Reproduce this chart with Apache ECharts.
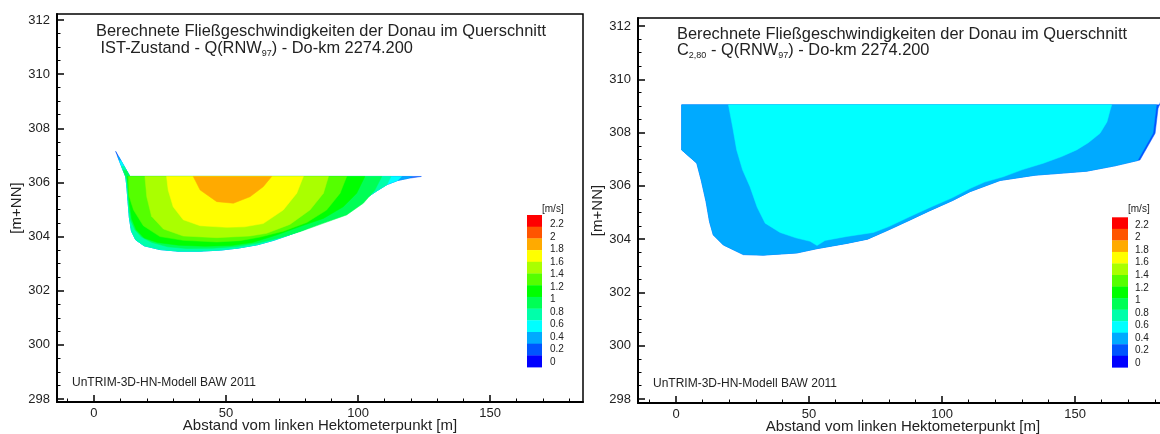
<!DOCTYPE html>
<html>
<head>
<meta charset="utf-8">
<script src="https://cdn.jsdelivr.net/npm/echarts@6.0.0/dist/echarts.min.js"></script>
<style>
  html, body { margin: 0; padding: 0; background: #fff; }
  #chart { width: 1160px; height: 434px; }
</style>
</head>
<body>
<div id="chart"></div>
<script>
// Achsenteilung
const xMajor = [0, 50, 100, 150];
const xMinor = [-10, 10, 20, 30, 40, 60, 70, 80, 90, 110, 120, 130, 140, 160, 170, 180];
const yMajor = [298, 300, 302, 304, 306, 308, 310, 312];
const yMinor = [298.5, 299, 299.5, 300.5, 301, 301.5, 302.5, 303, 303.5, 304.5, 305, 305.5,
  306.5, 307, 307.5, 308.5, 309, 309.5, 310.5, 311, 311.5];

// Farblegende [m/s], von oben nach unten
const legendLabels = ['2.2', '2', '1.8', '1.6', '1.4', '1.2', '1', '0.8', '0.6', '0.4', '0.2', '0'];
const legendColors = ['#ff0000', '#ff5500', '#ffaa00', '#ffff00', '#aaff00', '#55ff00', '#00ff00',
  '#00ff55', '#00ffaa', '#00ffff', '#00aaff', '#0055ff', '#0000ff'];

// IST-Zustand: Sohle (Abstand [m], Höhe [m+NN])
const bedIst = [[12.0, 306.22], [12.4, 305.9], [12.9, 305.3], [13.4, 304.7], [14.2, 304.2], [15.8, 303.88],
  [19, 303.66], [25, 303.52], [32, 303.46], [40, 303.46], [48, 303.5], [55, 303.58], [62, 303.7],
  [68, 303.86], [74, 304.06], [80, 304.28], [86, 304.55], [92, 304.85], [98, 305.15], [103, 305.42],
  [107, 305.68], [111, 305.92], [115, 306.07], [119, 306.15]];

// IST-Zustand: Bereiche v >= Stufe
const istV02 = [[8.2, 307.15], [10.5, 306.58], ...bedIst, [124, 306.22], [13.6, 306.22], [8.4, 307.12]];
const istV04 = [[9.0, 306.95], [10.5, 306.58], ...bedIst, [120.5, 306.22], [13.6, 306.22], [9.4, 306.95]];
const istV06 = [[9.6, 306.8], [10.5, 306.58], ...bedIst.slice(0, -1), [116.5, 306.22], [13.6, 306.22], [10.25, 306.8]];
const istV08 = [[10.4, 306.6], ...bedIst.slice(0, -2), [112.5, 306.22], [13.6, 306.22], [11.4, 306.6]];
const istV10 = [[11.04, 306.45], [12.5, 306.1], [12.9, 305.6], [13.3, 305.1], [13.9, 304.6], [15.5, 304.25],
  [18, 303.98], [22, 303.78], [28, 303.62], [35, 303.56], [45, 303.57], [54, 303.63], [62, 303.76],
  [70, 303.95], [78, 304.18], [86, 304.46], [95.7, 304.8], [102, 305.23], [106.4, 305.72], [109, 306.22],
  [13.6, 306.22], [12.3, 306.45]];
const istV12 = [[12.6, 306.22], [13.0, 305.8], [13.5, 305.2], [14.3, 304.65], [16, 304.25], [19, 303.95],
  [24, 303.78], [32, 303.68], [42, 303.64], [52, 303.67], [60, 303.78], [69.2, 304.06], [78, 304.37],
  [86.9, 304.67], [94.4, 305.1], [99.5, 305.6], [102.6, 306.22]];
const istV14 = [[13.0, 306.22], [13.3, 305.5], [15.0, 304.98], [18.7, 304.4], [25, 304.0], [33.8, 303.86],
  [46.5, 303.8], [55.3, 303.85], [62.9, 303.98], [71.7, 304.2], [80.6, 304.52], [88.1, 304.98],
  [93.2, 305.6], [95.7, 306.22]];
const istV16 = [[19.3, 306.22], [20, 305.47], [21.8, 304.75], [26.3, 304.28], [33.8, 304.02], [46.5, 303.96],
  [59.1, 304.02], [65.4, 304.12], [74.2, 304.45], [81.8, 304.98], [86.9, 305.6], [88.8, 306.22]];
const istV18 = [[27.5, 306.22], [28.1, 305.72], [30, 305.1], [33.8, 304.62], [40.2, 304.4], [50.3, 304.34],
  [57, 304.36], [64.1, 304.48], [71.7, 304.98], [76.8, 305.6], [79.3, 306.22]];
const istV20 = [[37.6, 306.22], [40.2, 305.72], [46.5, 305.29], [52.8, 305.23], [59.1, 305.47],
  [64.1, 305.84], [67.3, 306.22]];

// C2,80: Sohle
const bedC = [[2.1, 309.04], [2.1, 307.35], [7.8, 306.85], [9.5, 306.2], [11.3, 305.4], [12.6, 304.65],
  [14, 304.16], [17.8, 303.78], [25.3, 303.42], [32.8, 303.4], [45.4, 303.48], [52.9, 303.64],
  [64.2, 303.84], [72, 304.0], [80, 304.35], [88, 304.72], [95, 305.05], [104, 305.45], [110.5, 305.78],
  [121.8, 306.2], [135, 306.4], [144.4, 306.47], [154.4, 306.55], [165, 306.75], [174.4, 306.97]];
const cV02 = [...bedC, [180.1, 307.97], [181.2, 308.9], [182.5, 309.25], [186, 309.5], [186, 309.04]];
const cV04 = [...bedC.slice(0, -1), [173.5, 306.95], [179.3, 307.97], [180.6, 309.04]];
const cV06 = [[19.7, 309.04], [21.3, 308.2], [22.8, 307.35], [25, 306.6], [27.8, 305.97], [30.5, 305.2],
  [33.5, 304.6], [39.1, 304.25], [45, 304.05], [50.4, 303.92], [53, 303.76], [56, 303.95], [64.2, 304.1],
  [74.2, 304.25], [80, 304.47], [88, 304.85], [95, 305.17], [104, 305.56], [110.5, 305.9], [116, 306.14],
  [123, 306.34], [130, 306.6], [138.1, 306.85], [145, 307.1], [150.6, 307.35], [155, 307.62],
  [159.4, 307.97], [162, 308.4], [163.2, 308.85], [163.8, 309.04]];

const bandsIst = [
  {color: '#0055ff', pts: istV02}, {color: '#00aaff', pts: istV04}, {color: '#00ffff', pts: istV06},
  {color: '#00ffaa', pts: istV08}, {color: '#00ff55', pts: istV10}, {color: '#00ff00', pts: istV12},
  {color: '#55ff00', pts: istV14}, {color: '#aaff00', pts: istV16}, {color: '#ffff00', pts: istV18},
  {color: '#ffaa00', pts: istV20}
];
const bandsC = [
  {color: '#0055ff', pts: cV02}, {color: '#00aaff', pts: cV04}, {color: '#00ffff', pts: cV06}
];

const font = '"Liberation Sans", Arial, sans-serif';
const ink = '#222';

const chart = echarts.init(document.getElementById('chart'));

const xAxes = (gi, min, max) => [{
  gridIndex: gi, type: 'value', position: 'bottom', min, max,
  name: 'Abstand vom linken Hektometerpunkt [m]', nameLocation: 'middle', nameGap: 16,
  nameMoveOverlap: false,
  nameTextStyle: {fontFamily: font, fontSize: 15, color: ink},
  axisLine: {onZero: false, lineStyle: {color: '#000', width: 2}},
  axisTick: {inside: true, length: 7, customValues: xMajor, lineStyle: {color: '#000', width: 1.5}},
  axisLabel: {customValues: xMajor, fontFamily: font, fontSize: 13, color: ink, margin: 5},
  splitLine: {show: false}
}, {
  gridIndex: gi, type: 'value', position: 'bottom', min, max,
  axisLine: {show: false, onZero: false},
  axisTick: {inside: true, length: 3.5, customValues: xMinor, lineStyle: {color: '#000', width: 1}},
  axisLabel: {show: false}, splitLine: {show: false}
}];

const yAxes = (gi, min, max) => [{
  gridIndex: gi, type: 'value', position: 'left', min, max,
  name: '[m+NN]', nameLocation: 'middle', nameGap: 33, nameMoveOverlap: false,
  nameTextStyle: {fontFamily: font, fontSize: 15, color: ink},
  axisLine: {onZero: false, lineStyle: {color: '#000', width: 2}},
  axisTick: {inside: true, length: 7, customValues: yMajor, lineStyle: {color: '#000', width: 1.5}},
  axisLabel: {customValues: yMajor, fontFamily: font, fontSize: 13, color: ink, margin: 7},
  splitLine: {show: false}
}, {
  gridIndex: gi, type: 'value', position: 'left', min, max,
  axisLine: {show: false, onZero: false},
  axisTick: {inside: true, length: 3.5, customValues: yMinor, lineStyle: {color: '#000', width: 1}},
  axisLabel: {show: false}, splitLine: {show: false}
}];

const contour = (bands, axisIdx) => ({
  type: 'custom', xAxisIndex: axisIdx, yAxisIndex: axisIdx, silent: true, clip: true,
  data: bands.map(b => b.pts[0]),
  renderItem(params, api) {
    const b = bands[params.dataIndex];
    return {
      type: 'polygon',
      shape: {points: b.pts.map(p => api.coord(p))},
      style: {fill: b.color, stroke: b.color, lineWidth: 0.5}
    };
  }
});

const colorbar = (x, top, w, h, labelX, labelY0, labelStep) => {
  const els = [];
  legendColors.forEach((c, i) => {
    els.push({type: 'rect', shape: {x, y: top + i * h, width: w, height: h + 0.3}, style: {fill: c}, silent: true});
  });
  legendLabels.forEach((t, i) => {
    els.push({type: 'text', x: labelX, y: labelY0 + i * labelStep,
      style: {text: t, font: '10px ' + font, fill: ink, align: 'left', verticalAlign: 'middle'}, silent: true});
  });
  els.push({type: 'text', x: x + w, y: 209,
    style: {text: '[m/s]', font: '10px ' + font, fill: ink, align: 'left', verticalAlign: 'middle'}, silent: true});
  return els;
};

const rich = {
  a: {fontFamily: font, fontSize: 16.4, fontWeight: 'normal', lineHeight: 13, color: ink, verticalAlign: 'middle'},
  b: {fontFamily: font, fontSize: 16.4, fontWeight: 'normal', lineHeight: 20, color: ink, verticalAlign: 'middle'},
  s: {fontFamily: font, fontSize: 9, fontWeight: 'normal', lineHeight: 9, color: ink, verticalAlign: 'bottom'}
};

const gridBase = {show: true, borderColor: '#000', borderWidth: 1.5, backgroundColor: 'transparent',
  outerBoundsMode: 'none', containLabel: false};

chart.setOption({
  animation: false,
  backgroundColor: '#fff',
  title: [{
    left: 96, top: 25, padding: 0,
    text: '{a|Berechnete Fließgeschwindigkeiten der Donau im Querschnitt}\n{b| IST-Zustand - Q(RNW}{s|97}{b|) - Do-km 2274.200}',
    textStyle: {fontWeight: 'normal', rich}
  }, {
    left: 677, top: 27.5, padding: 0,
    text: '{a|Berechnete Fließgeschwindigkeiten der Donau im Querschnitt}\n{b|C}{s|2,80}{b| - Q(RNW}{s|97}{b|) - Do-km 2274.200}',
    textStyle: {fontWeight: 'normal', rich}
  }, {
    left: 72, top: 376, padding: 0, text: 'UnTRIM-3D-HN-Modell BAW 2011',
    textStyle: {fontFamily: font, fontSize: 12, fontWeight: 'normal', color: ink, lineHeight: 14}
  }, {
    left: 653, top: 377, padding: 0, text: 'UnTRIM-3D-HN-Modell BAW 2011',
    textStyle: {fontFamily: font, fontSize: 12, fontWeight: 'normal', color: ink, lineHeight: 14}
  }],
  grid: [
    {...gridBase, left: 57, top: 14, width: 526, height: 388},
    {...gridBase, left: 638, top: 18, width: 530, height: 385}
  ],
  xAxis: [...xAxes(0, -14, 185.2), ...xAxes(1, -14.3, 184.95)],
  yAxis: [...yAxes(0, 297.89, 312.22), ...yAxes(1, 297.85, 312.3)],
  series: [contour(bandsIst, 0), contour(bandsC, 2)],
  graphic: [
    ...colorbar(527, 215, 15, 11.7, 550, 224.3, 12.5),
    ...colorbar(1112, 217.3, 16, 11.54, 1135, 225, 12.57)
  ]
});
</script>
</body>
</html>
